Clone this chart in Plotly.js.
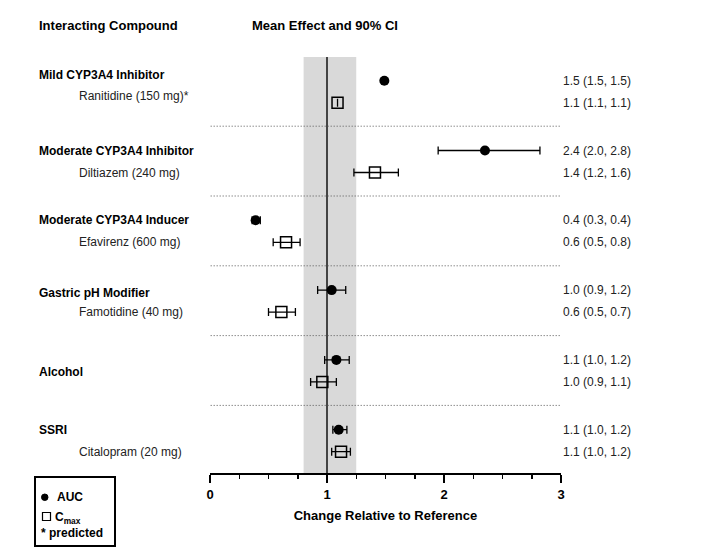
<!DOCTYPE html>
<html>
<head>
<meta charset="utf-8">
<script src="https://cdn.plot.ly/plotly-3.0.1.min.js"></script>
<style>html,body{margin:0;padding:0;background:#fff;}#chart{width:725px;height:557px;}</style>
</head>
<body>
<div id="chart"></div>
<script>
// ---- data ----
const groupLabels = ["Mild CYP3A4 Inhibitor", "Moderate CYP3A4 Inhibitor", "Moderate CYP3A4 Inducer", "Gastric pH Modifier", "Alcohol", "SSRI"];
const compoundLabels = ["Ranitidine (150 mg)*", "Diltiazem (240 mg)", "Efavirenz (600 mg)", "Famotidine (40 mg)", "", "Citalopram (20 mg)"];

const aucMean  = [1.49, 2.35, 0.39, 1.04, 1.08, 1.10];
const aucLow   = [1.49, 1.95, 0.36, 0.92, 0.98, 1.05];
const aucHigh  = [1.49, 2.82, 0.43, 1.16, 1.19, 1.17];
const aucText  = ["1.5 (1.5, 1.5)", "2.4 (2.0, 2.8)", "0.4 (0.3, 0.4)", "1.0 (0.9, 1.2)", "1.1 (1.0, 1.2)", "1.1 (1.0, 1.2)"];

const cmaxMean = [1.09, 1.41, 0.65, 0.61, 0.96, 1.12];
const cmaxLow  = [1.09, 1.23, 0.54, 0.50, 0.86, 1.04];
const cmaxHigh = [1.09, 1.61, 0.77, 0.73, 1.08, 1.20];
const cmaxText = ["1.1 (1.1, 1.1)", "1.4 (1.2, 1.6)", "0.6 (0.5, 0.8)", "0.6 (0.5, 0.7)", "1.0 (0.9, 1.1)", "1.1 (1.0, 1.2)"];

const refLow = 0.8, refHigh = 1.25, refLine = 1;

// ---- layout helpers ----
const GROUP = 69.8, ROW = 22;
const aucY = groupLabels.map((_, g) => g * GROUP);
const cmaxY = groupLabels.map((_, g) => g * GROUP + ROW);
const FONT = '"Liberation Sans", Arial, sans-serif';

const traces = [
  {
    type: 'scatter', mode: 'markers', name: 'AUC',
    x: aucMean, y: aucY,
    error_x: {type: 'data', symmetric: false,
      array: aucMean.map((m, i) => aucHigh[i] - m),
      arrayminus: aucMean.map((m, i) => m - aucLow[i]),
      color: '#000', thickness: 1.3, width: 4},
    marker: {symbol: 'circle', size: 10, color: '#000'},
    cliponaxis: false, showlegend: false
  },
  {
    type: 'scatter', mode: 'markers', name: 'Cmax',
    x: cmaxMean, y: cmaxY,
    error_x: {type: 'data', symmetric: false,
      array: cmaxMean.map((m, i) => cmaxHigh[i] - m),
      arrayminus: cmaxMean.map((m, i) => m - cmaxLow[i]),
      color: '#000', thickness: 1.3, width: 4},
    marker: {symbol: 'square-open', size: 11, color: '#000', line: {width: 1.5, color: '#000'}},
    cliponaxis: false, showlegend: false
  }
];

const shapes = [
  {type: 'rect', xref: 'x', yref: 'paper', x0: refLow, x1: refHigh, y0: 0, y1: 1,
   fillcolor: '#d9d9d9', line: {width: 0}, layer: 'below'},
  {type: 'line', xref: 'x', yref: 'paper', x0: refLine, x1: refLine, y0: 0, y1: 1,
   line: {color: '#444', width: 2}, layer: 'below'}
];
for (let g = 0; g < groupLabels.length - 1; g++) {
  const ys = g * GROUP + ROW + 23.5;
  shapes.push({type: 'line', xref: 'x', yref: 'y', x0: -0.02, x1: 3, y0: ys, y1: ys,
    line: {color: '#555', width: 1, dash: '1px,2px'}, layer: 'below'});
}
// legend box and symbols
const px = v => (v - 210) / 351;
const py = v => (473 - v) / 416;
shapes.push({type: 'rect', xref: 'paper', yref: 'paper', x0: px(35), x1: px(115), y0: py(477), y1: py(546),
  line: {color: '#000', width: 2}, fillcolor: 'rgba(0,0,0,0)'});
shapes.push({type: 'circle', xref: 'paper', yref: 'paper', x0: px(41.5), x1: px(48), y0: py(494), y1: py(500.5),
  line: {color: '#000', width: 1}, fillcolor: '#000'});
shapes.push({type: 'rect', xref: 'paper', yref: 'paper', x0: px(42.5), x1: px(50.5), y0: py(512.5), y1: py(520.5),
  line: {color: '#000', width: 1.2}, fillcolor: 'rgba(0,0,0,0)'});

const annotations = [];
const bold = (t) => '<b>' + t + '</b>';
annotations.push({xref: 'paper', yref: 'paper', x: px(37), y: py(26), xanchor: 'left', yanchor: 'middle',
  text: bold('Interacting Compound'), showarrow: false, font: {family: FONT, size: 13, color: '#000'}});
annotations.push({xref: 'paper', yref: 'paper', x: px(250), y: py(26), xanchor: 'left', yanchor: 'middle',
  text: bold('Mean Effect and 90% CI'), showarrow: false, font: {family: FONT, size: 13, color: '#000'}});

const headerShift = [-6, 0, 0, 3, 0, 0];
groupLabels.forEach((lab, g) => {
  const single = compoundLabels[g] === '';
  annotations.push({xref: 'paper', yref: 'y', x: px(37),
    y: single ? (aucY[g] + cmaxY[g]) / 2 + 1 : aucY[g] + headerShift[g],
    xanchor: 'left', yanchor: 'middle', text: bold(lab), showarrow: false,
    font: {family: FONT, size: 12, color: '#000'}});
  if (!single) {
    annotations.push({xref: 'paper', yref: 'y', x: px(77), y: cmaxY[g] + (g === 0 ? -7 : 0),
      xanchor: 'left', yanchor: 'middle', text: compoundLabels[g], showarrow: false,
      font: {family: FONT, size: 12, color: '#222'}});
  }
  annotations.push({xref: 'paper', yref: 'y', x: px(561), y: aucY[g], xanchor: 'left', yanchor: 'middle',
    text: aucText[g], showarrow: false, font: {family: FONT, size: 12, color: '#222'}});
  annotations.push({xref: 'paper', yref: 'y', x: px(561), y: cmaxY[g], xanchor: 'left', yanchor: 'middle',
    text: cmaxText[g], showarrow: false, font: {family: FONT, size: 12, color: '#222'}});
});

// legend texts
annotations.push({xref: 'paper', yref: 'paper', x: px(55), y: py(497), xanchor: 'left', yanchor: 'middle',
  text: bold('AUC'), showarrow: false, font: {family: FONT, size: 12, color: '#000'}});
annotations.push({xref: 'paper', yref: 'paper', x: px(53), y: py(518), xanchor: 'left', yanchor: 'middle',
  text: bold('C<sub>max</sub>'), showarrow: false, font: {family: FONT, size: 12, color: '#000'}});
annotations.push({xref: 'paper', yref: 'paper', x: px(39), y: py(533), xanchor: 'left', yanchor: 'middle',
  text: bold('* predicted'), showarrow: false, font: {family: FONT, size: 12, color: '#000'}});

const layout = {
  width: 725, height: 557,
  margin: {l: 210, r: 164, t: 57, b: 84, pad: 0},
  paper_bgcolor: '#fff', plot_bgcolor: '#fff',
  showlegend: false,
  font: {family: FONT, color: '#000'},
  xaxis: {
    range: [0, 3], tickmode: 'linear', tick0: 0, dtick: 1,
    showgrid: false, zeroline: false, showline: true, linecolor: '#000', linewidth: 2,
    ticks: 'outside', ticklen: 8, tickwidth: 2, tickcolor: '#000',
    minor: {tickmode: 'linear', tick0: 0, dtick: 0.25, ticks: 'outside', ticklen: 4, tickwidth: 1.5, tickcolor: '#000', showgrid: false},
    tickfont: {family: FONT, size: 13, weight: 'bold', color: '#000'},
    title: {text: 'Change Relative to Reference', font: {family: FONT, size: 13, weight: 'bold', color: '#000'}, standoff: 10},
    fixedrange: true
  },
  yaxis: {
    range: [473 - 80.7, 57 - 80.7],
    showgrid: false, zeroline: false, showline: false, showticklabels: false, ticks: '',
    fixedrange: true
  },
  shapes: shapes,
  annotations: annotations
};

Plotly.newPlot('chart', traces, layout, {displayModeBar: false, staticPlot: true});
</script>
</body>
</html>
